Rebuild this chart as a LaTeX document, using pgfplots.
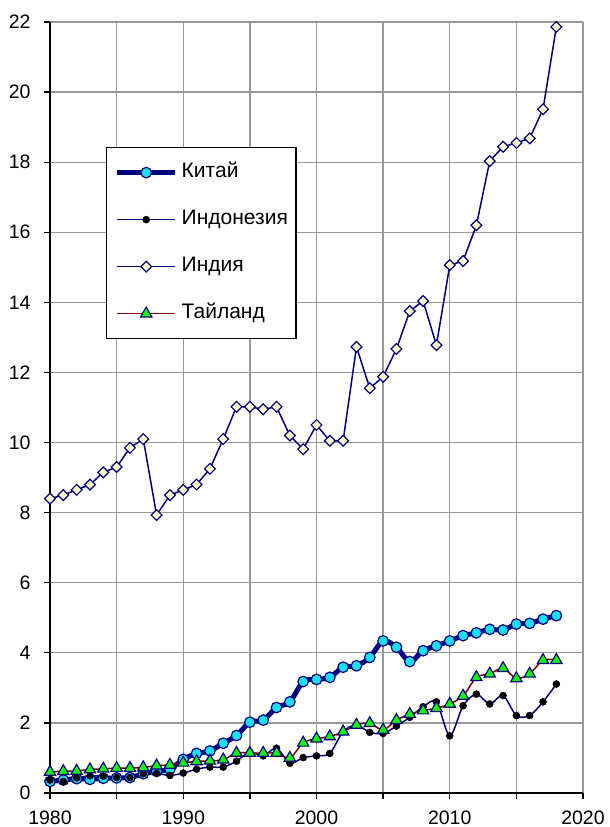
\documentclass[border=0pt]{standalone}
\usepackage{pgfplots}
\pgfplotsset{compat=1.18}
\usepackage{fontspec}
\setmainfont{Liberation Sans}
\definecolor{navy}{RGB}{0,0,128}
\definecolor{cyanm}{RGB}{20,225,245}
\definecolor{lyellow}{RGB}{255,255,204}
\definecolor{dred}{RGB}{128,0,0}
\definecolor{limeg}{RGB}{0,255,0}
\definecolor{gridg}{RGB}{153,153,153}

\pgfplotstableread{
year v
1980 0.33
1981 0.37
1982 0.41
1983 0.39
1984 0.42
1985 0.43
1986 0.44
1987 0.55
1988 0.62
1989 0.68
1990 0.96
1991 1.13
1992 1.20
1993 1.42
1994 1.64
1995 2.02
1996 2.08
1997 2.44
1998 2.60
1999 3.18
2000 3.24
2001 3.30
2002 3.59
2003 3.63
2004 3.87
2005 4.34
2006 4.16
2007 3.75
2008 4.06
2009 4.20
2010 4.34
2011 4.49
2012 4.57
2013 4.67
2014 4.65
2015 4.82
2016 4.84
2017 4.96
2018 5.06
}\china

\pgfplotstableread{
year v
1980 0.37
1981 0.33
1982 0.43
1983 0.49
1984 0.48
1985 0.44
1986 0.44
1987 0.55
1988 0.56
1989 0.50
1990 0.57
1991 0.68
1992 0.74
1993 0.74
1994 0.91
1995 1.16
1996 1.06
1997 1.28
1998 0.85
1999 1.01
2000 1.06
2001 1.13
2002 1.75
2003 1.94
2004 1.73
2005 1.70
2006 1.91
2007 2.16
2008 2.46
2009 2.60
2010 1.63
2011 2.49
2012 2.82
2013 2.54
2014 2.78
2015 2.21
2016 2.21
2017 2.60
2018 3.11
}\indonesia

\pgfplotstableread{
year v
1980 8.40
1981 8.50
1982 8.65
1983 8.80
1984 9.15
1985 9.30
1986 9.85
1987 10.10
1988 7.93
1989 8.50
1990 8.65
1991 8.80
1992 9.25
1993 10.10
1994 11.02
1995 11.02
1996 10.95
1997 11.02
1998 10.20
1999 9.81
2000 10.50
2001 10.05
2002 10.05
2003 12.73
2004 11.55
2005 11.88
2006 12.67
2007 13.75
2008 14.04
2009 12.78
2010 15.06
2011 15.18
2012 16.20
2013 18.03
2014 18.44
2015 18.55
2016 18.68
2017 19.51
2018 21.86
}\india

\pgfplotstableread{
year v
1980 0.60
1981 0.62
1982 0.63
1983 0.67
1984 0.69
1985 0.71
1986 0.71
1987 0.73
1988 0.78
1989 0.80
1990 0.86
1991 0.90
1992 0.92
1993 0.95
1994 1.14
1995 1.14
1996 1.14
1997 1.14
1998 1.00
1999 1.43
2000 1.55
2001 1.61
2002 1.75
2003 1.94
2004 1.99
2005 1.80
2006 2.08
2007 2.25
2008 2.35
2009 2.42
2010 2.54
2011 2.77
2012 3.30
2013 3.40
2014 3.56
2015 3.27
2016 3.40
2017 3.79
2018 3.79
}\thailand

\begin{document}
\begin{tikzpicture}
\useasboundingbox (-50pt,-34pt) rectangle (560pt,793pt);
\begin{axis}[
  at={(0pt,0pt)}, anchor=south west,
  scale only axis, width=533pt, height=771pt,
  xmin=1980, xmax=2020, ymin=0, ymax=22,
  xtick={1980,1985,...,2020},
  xticklabels={1980,,1990,,2000,,2010,,2020},
  ytick={0,2,...,22},
  grid=major,
  grid style={gridg, line width=1.3pt},
  axis x line*=bottom, axis y line*=left,
  axis line style={black, line width=1.5pt, -},
  tick align=outside, major tick length=6pt,
  tick style={black, line width=1.3pt},
  ticklabel style={font=\fontsize{19.5}{23}\selectfont},
  xticklabel style={yshift=-8pt},
  yticklabel style={xshift=-10pt},
  /pgf/number format/assume math mode=true,
  /pgf/number format/1000 sep={},
  clip=false,
  legend cell align=left,
  legend image code/.code={\draw[mark repeat=2,mark phase=2,#1] plot coordinates {(0pt,0pt) (29pt,0pt) (58pt,0pt)};},
  legend style={at={(0.105,0.838)}, anchor=north west, draw=black, line width=1.5pt,
    fill=white, inner xsep=8pt, inner ysep=16pt,
    font=\fontsize{21}{25}\selectfont, row sep=29pt, column sep=4pt,
    nodes={inner sep=0pt, text height=14pt, text depth=4pt}},
]
\addplot[navy, line width=5pt, smooth, mark=*, mark size=5.3pt,
  mark options={fill=cyanm, draw=navy, line width=1.2pt}] table[x=year,y=v] {\china};
\addlegendentry{Китай}
\addplot[navy, line width=1.5pt, smooth, mark=*, mark size=3.5pt,
  mark options={fill=black, draw=black, line width=0.5pt}] table[x=year,y=v] {\indonesia};
\addlegendentry{Индонезия}
\addplot[navy, line width=1.5pt, mark=square*, mark size=3.8pt,
  mark options={rotate=45, fill=lyellow, draw=navy, line width=1.2pt}] table[x=year,y=v] {\india};
\addlegendentry{Индия}
\addplot[dred, line width=1.5pt, smooth, mark=triangle*, mark size=6.5pt,
  mark options={fill=limeg, draw=navy, line width=1.2pt}] table[x=year,y=v] {\thailand};
\addlegendentry{Тайланд}
\end{axis}
\end{tikzpicture}
\end{document}
